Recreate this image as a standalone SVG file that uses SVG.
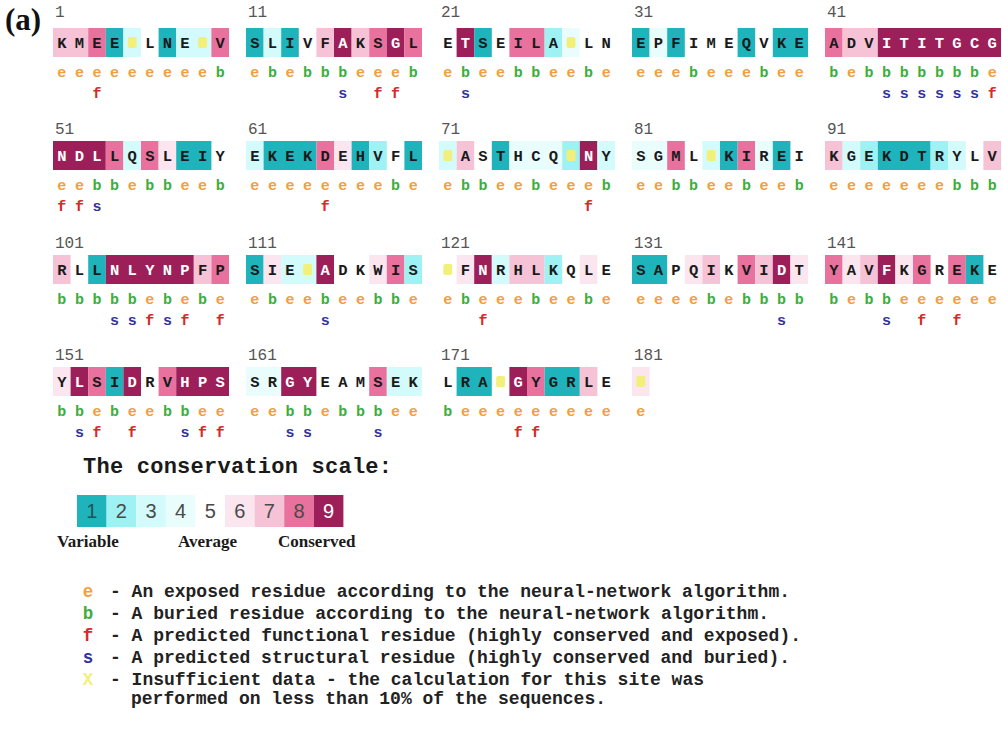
<svg xmlns="http://www.w3.org/2000/svg" width="1002" height="730" viewBox="0 0 1002 730">
<style>
  .num{font:16px "Liberation Mono",monospace;fill:#555}
  .res{font:bold 15.5px "Liberation Mono",monospace;fill:#1a1a1a;text-anchor:middle}
  .w{fill:#fff}
  .ann{font:bold 15px "Liberation Mono",monospace;text-anchor:middle}
  .e{fill:#f0a040}.b{fill:#3cae3c}.f{fill:#d42a2a}.s{fill:#33339a}
  .g1{fill:#1fb3bb}.g2{fill:#9ef2f4}.g3{fill:#d3fbfb}.g4{fill:#eafdfd}
  .g6{fill:#fbe6ef}.g7{fill:#f5c2d6}.g8{fill:#e8719d}.g9{fill:#9c1f5a}
  .ins{fill:#f2f07a}
  .title{font:bold 22px "Liberation Mono",monospace;fill:#1a1a1a}
  .digit{font:20px "Liberation Sans",Arial,sans-serif;fill:#4a4a4a;text-anchor:middle}
  .lab{font:bold 17px "Liberation Serif","Times New Roman",serif;fill:#1a1a1a}
  .key{font:bold 17.5px "Liberation Mono",monospace;fill:#222}
  .sym{font:bold 17.5px "Liberation Mono",monospace;text-anchor:middle}
  .tag{font:bold 31px "Liberation Serif","Times New Roman",serif;fill:#111}
</style>
<rect width="1002" height="730" fill="#fff"/>
<text class="tag" x="5" y="30">(a)</text>

<!-- residues 1-50 -->
<g id="pos1" transform="translate(53,28)">
  <text class="num" x="2" y="-11">1</text>
  <rect class="g7" x="0" y="0" width="35.2" height="29"/><rect class="g8" x="35.2" y="0" width="17.6" height="29"/><rect class="g1" x="52.8" y="0" width="17.6" height="29"/><rect class="g3" x="70.4" y="0" width="17.6" height="29"/><rect class="g1" x="105.6" y="0" width="17.6" height="29"/><rect class="g3" x="123.2" y="0" width="35.2" height="29"/><rect class="g8" x="158.4" y="0" width="17.6" height="29"/>
  <rect class="ins" x="74.7" y="9" width="9" height="11" rx="2"/><rect class="ins" x="145.1" y="9" width="9" height="11" rx="2"/>
  <text class="res" x="8.8 26.4 44 61.6 96.8 114.4 132 167.2" y="20">KMEELNEV</text>
  <text class="ann" y="49"><tspan class="e" x="8.8 26.4 44 61.6 79.2 96.8 114.4 132 149.6">eeeeeeeee</tspan><tspan class="b" x="167.2">b</tspan></text>
  <text class="ann f" x="44" y="70">f</text>
</g>
<g id="pos11" transform="translate(246,28)">
  <text class="num" x="2" y="-11">11</text>
  <rect class="g1" x="0" y="0" width="17.6" height="29"/><rect class="g3" x="17.6" y="0" width="17.6" height="29"/><rect class="g1" x="35.2" y="0" width="17.6" height="29"/><rect class="g7" x="70.4" y="0" width="17.6" height="29"/><rect class="g9" x="88" y="0" width="17.6" height="29"/><rect class="g7" x="105.6" y="0" width="17.6" height="29"/><rect class="g8" x="123.2" y="0" width="17.6" height="29"/><rect class="g9" x="140.8" y="0" width="17.6" height="29"/><rect class="g8" x="158.4" y="0" width="17.6" height="29"/>
  <text class="res" y="20"><tspan x="8.8 26.4 44 61.6 79.2">SLIVF</tspan><tspan class="w" x="96.8">A</tspan><tspan x="114.4 132">KS</tspan><tspan class="w" x="149.6">G</tspan><tspan x="167.2">L</tspan></text>
  <text class="ann" y="49"><tspan class="e" x="8.8">e</tspan><tspan class="b" x="26.4">b</tspan><tspan class="e" x="44">e</tspan><tspan class="b" x="61.6 79.2 96.8">bbb</tspan><tspan class="e" x="114.4 132 149.6">eee</tspan><tspan class="b" x="167.2">b</tspan></text>
  <text class="ann" y="70"><tspan class="s" x="96.8">s</tspan><tspan class="f" x="132 149.6">ff</tspan></text>
</g>
<g id="pos21" transform="translate(439,28)">
  <text class="num" x="2" y="-11">21</text>
  <rect class="g9" x="17.6" y="0" width="17.6" height="29"/><rect class="g1" x="35.2" y="0" width="17.6" height="29"/><rect class="g8" x="70.4" y="0" width="35.2" height="29"/><rect class="g2" x="105.6" y="0" width="17.6" height="29"/><rect class="g4" x="123.2" y="0" width="17.6" height="29"/>
  <rect class="ins" x="127.5" y="9" width="9" height="11" rx="2"/>
  <text class="res" y="20"><tspan x="8.8">E</tspan><tspan class="w" x="26.4">T</tspan><tspan x="44 61.6 79.2 96.8 114.4 149.6 167.2">SEILALN</tspan></text>
  <text class="ann" y="49"><tspan class="e" x="8.8">e</tspan><tspan class="b" x="26.4">b</tspan><tspan class="e" x="44 61.6">ee</tspan><tspan class="b" x="79.2 96.8">bb</tspan><tspan class="e" x="114.4 132">ee</tspan><tspan class="b" x="149.6">b</tspan><tspan class="e" x="167.2">e</tspan></text>
  <text class="ann s" x="26.4" y="70">s</text>
</g>
<g id="pos31" transform="translate(632,28)">
  <text class="num" x="2" y="-11">31</text>
  <rect class="g1" x="0" y="0" width="17.6" height="29"/><rect class="g4" x="17.6" y="0" width="17.6" height="29"/><rect class="g1" x="35.2" y="0" width="17.6" height="29"/><rect class="g1" x="105.6" y="0" width="17.6" height="29"/><rect class="g1" x="140.8" y="0" width="35.2" height="29"/>
  <text class="res" x="8.8 26.4 44 61.6 79.2 96.8 114.4 132 149.6 167.2" y="20">EPFIMEQVKE</text>
  <text class="ann" y="49"><tspan class="e" x="8.8 26.4 44">eee</tspan><tspan class="b" x="61.6">b</tspan><tspan class="e" x="79.2 96.8 114.4">eee</tspan><tspan class="b" x="132">b</tspan><tspan class="e" x="149.6 167.2">ee</tspan></text>
</g>
<g id="pos41" transform="translate(825,28)">
  <text class="num" x="2" y="-11">41</text>
  <rect class="g8" x="0" y="0" width="17.6" height="29"/><rect class="g7" x="17.6" y="0" width="35.2" height="29"/><rect class="g9" x="52.8" y="0" width="123.2" height="29"/>
  <text class="res" y="20"><tspan x="8.8 26.4 44">ADV</tspan><tspan class="w" x="61.6 79.2 96.8 114.4 132 149.6 167.2">ITITGCG</tspan></text>
  <text class="ann" y="49"><tspan class="b" x="8.8">b</tspan><tspan class="e" x="26.4">e</tspan><tspan class="b" x="44 61.6 79.2 96.8 114.4 132 149.6">bbbbbbb</tspan><tspan class="e" x="167.2">e</tspan></text>
  <text class="ann" y="70"><tspan class="s" x="61.6 79.2 96.8 114.4 132 149.6">ssssss</tspan><tspan class="f" x="167.2">f</tspan></text>
</g>

<!-- residues 51-100 -->
<g id="pos51" transform="translate(53,141)">
  <text class="num" x="2" y="-7">51</text>
  <rect class="g9" x="0" y="0" width="52.8" height="29"/><rect class="g8" x="52.8" y="0" width="17.6" height="29"/><rect class="g3" x="70.4" y="0" width="17.6" height="29"/><rect class="g8" x="88" y="0" width="17.6" height="29"/><rect class="g6" x="105.6" y="0" width="17.6" height="29"/><rect class="g1" x="123.2" y="0" width="35.2" height="29"/>
  <text class="res" y="20"><tspan class="w" x="8.8 26.4 44">NDL</tspan><tspan x="61.6 79.2 96.8 114.4 132 149.6 167.2">LQSLEIY</tspan></text>
  <text class="ann" y="49"><tspan class="e" x="8.8 26.4">ee</tspan><tspan class="b" x="44 61.6">bb</tspan><tspan class="e" x="79.2">e</tspan><tspan class="b" x="96.8 114.4">bb</tspan><tspan class="e" x="132 149.6">ee</tspan><tspan class="b" x="167.2">b</tspan></text>
  <text class="ann" y="70"><tspan class="f" x="8.8 26.4">ff</tspan><tspan class="s" x="44">s</tspan></text>
</g>
<g id="pos61" transform="translate(246,141)">
  <text class="num" x="2" y="-7">61</text>
  <rect class="g3" x="0" y="0" width="17.6" height="29"/><rect class="g1" x="17.6" y="0" width="52.8" height="29"/><rect class="g8" x="70.4" y="0" width="17.6" height="29"/><rect class="g6" x="88" y="0" width="17.6" height="29"/><rect class="g1" x="105.6" y="0" width="17.6" height="29"/><rect class="g2" x="123.2" y="0" width="17.6" height="29"/><rect class="g1" x="158.4" y="0" width="17.6" height="29"/>
  <text class="res" x="8.8 26.4 44 61.6 79.2 96.8 114.4 132 149.6 167.2" y="20">EKEKDEHVFL</text>
  <text class="ann" y="49"><tspan class="e" x="8.8 26.4 44 61.6 79.2 96.8 114.4 132">eeeeeeee</tspan><tspan class="b" x="149.6">b</tspan><tspan class="e" x="167.2">e</tspan></text>
  <text class="ann f" x="79.2" y="70">f</text>
</g>
<g id="pos71" transform="translate(439,141)">
  <text class="num" x="2" y="-7">71</text>
  <rect class="g3" x="0" y="0" width="17.6" height="29"/><rect class="g7" x="17.6" y="0" width="17.6" height="29"/><rect class="g1" x="52.8" y="0" width="17.6" height="29"/><rect class="g4" x="70.4" y="0" width="52.8" height="29"/><rect class="g2" x="123.2" y="0" width="17.6" height="29"/><rect class="g9" x="140.8" y="0" width="17.6" height="29"/><rect class="g3" x="158.4" y="0" width="17.6" height="29"/>
  <rect class="ins" x="4.3" y="9" width="9" height="11" rx="2"/><rect class="ins" x="127.5" y="9" width="9" height="11" rx="2"/>
  <text class="res" y="20"><tspan x="26.4 44 61.6 79.2 96.8 114.4">ASTHCQ</tspan><tspan class="w" x="149.6">N</tspan><tspan x="167.2">Y</tspan></text>
  <text class="ann" y="49"><tspan class="e" x="8.8">e</tspan><tspan class="b" x="26.4 44">bb</tspan><tspan class="e" x="61.6 79.2">ee</tspan><tspan class="b" x="96.8">b</tspan><tspan class="e" x="114.4 132 149.6">eee</tspan><tspan class="b" x="167.2">b</tspan></text>
  <text class="ann f" x="149.6" y="70">f</text>
</g>
<g id="pos81" transform="translate(632,141)">
  <text class="num" x="2" y="-7">81</text>
  <rect class="g4" x="0" y="0" width="35.2" height="29"/><rect class="g8" x="35.2" y="0" width="17.6" height="29"/><rect class="g3" x="70.4" y="0" width="17.6" height="29"/><rect class="g1" x="88" y="0" width="17.6" height="29"/><rect class="g8" x="105.6" y="0" width="17.6" height="29"/><rect class="g4" x="123.2" y="0" width="17.6" height="29"/><rect class="g1" x="140.8" y="0" width="17.6" height="29"/>
  <rect class="ins" x="74.7" y="9" width="9" height="11" rx="2"/>
  <text class="res" x="8.8 26.4 44 61.6 96.8 114.4 132 149.6 167.2" y="20">SGMLKIREI</text>
  <text class="ann" y="49"><tspan class="e" x="8.8 26.4">ee</tspan><tspan class="b" x="44 61.6">bb</tspan><tspan class="e" x="79.2 96.8">ee</tspan><tspan class="b" x="114.4">b</tspan><tspan class="e" x="132 149.6">ee</tspan><tspan class="b" x="167.2">b</tspan></text>
</g>
<g id="pos91" transform="translate(825,141)">
  <text class="num" x="2" y="-7">91</text>
  <rect class="g7" x="0" y="0" width="17.6" height="29"/><rect class="g3" x="17.6" y="0" width="17.6" height="29"/><rect class="g2" x="35.2" y="0" width="17.6" height="29"/><rect class="g1" x="52.8" y="0" width="52.8" height="29"/><rect class="g2" x="105.6" y="0" width="17.6" height="29"/><rect class="g3" x="123.2" y="0" width="17.6" height="29"/><rect class="g7" x="158.4" y="0" width="17.6" height="29"/>
  <text class="res" x="8.8 26.4 44 61.6 79.2 96.8 114.4 132 149.6 167.2" y="20">KGEKDTRYLV</text>
  <text class="ann" y="49"><tspan class="e" x="8.8 26.4 44 61.6 79.2 96.8 114.4">eeeeeee</tspan><tspan class="b" x="132 149.6 167.2">bbb</tspan></text>
</g>

<!-- residues 101-150 -->
<g id="pos101" transform="translate(53,255)">
  <text class="num" x="2" y="-7">101</text>
  <rect class="g7" x="0" y="0" width="17.6" height="29"/><rect class="g1" x="35.2" y="0" width="17.6" height="29"/><rect class="g9" x="52.8" y="0" width="88" height="29"/><rect class="g7" x="140.8" y="0" width="17.6" height="29"/><rect class="g8" x="158.4" y="0" width="17.6" height="29"/>
  <text class="res" y="20"><tspan x="8.8 26.4 44">RLL</tspan><tspan class="w" x="61.6 79.2 96.8 114.4 132">NLYNP</tspan><tspan x="149.6 167.2">FP</tspan></text>
  <text class="ann" y="49"><tspan class="b" x="8.8 26.4 44 61.6 79.2">bbbbb</tspan><tspan class="e" x="96.8">e</tspan><tspan class="b" x="114.4">b</tspan><tspan class="e" x="132">e</tspan><tspan class="b" x="149.6">b</tspan><tspan class="e" x="167.2">e</tspan></text>
  <text class="ann" y="70"><tspan class="s" x="61.6 79.2">ss</tspan><tspan class="f" x="96.8">f</tspan><tspan class="s" x="114.4">s</tspan><tspan class="f" x="132 167.2">ff</tspan></text>
</g>
<g id="pos111" transform="translate(246,255)">
  <text class="num" x="2" y="-7">111</text>
  <rect class="g1" x="0" y="0" width="17.6" height="29"/><rect class="g6" x="17.6" y="0" width="17.6" height="29"/><rect class="g3" x="35.2" y="0" width="35.2" height="29"/><rect class="g9" x="70.4" y="0" width="17.6" height="29"/><rect class="g6" x="123.2" y="0" width="17.6" height="29"/><rect class="g8" x="140.8" y="0" width="17.6" height="29"/><rect class="g2" x="158.4" y="0" width="17.6" height="29"/>
  <rect class="ins" x="57.1" y="9" width="9" height="11" rx="2"/>
  <text class="res" y="20"><tspan x="8.8 26.4 44">SIE</tspan><tspan class="w" x="79.2">A</tspan><tspan x="96.8 114.4 132 149.6 167.2">DKWIS</tspan></text>
  <text class="ann" y="49"><tspan class="e" x="8.8">e</tspan><tspan class="b" x="26.4">b</tspan><tspan class="e" x="44 61.6">ee</tspan><tspan class="b" x="79.2">b</tspan><tspan class="e" x="96.8 114.4">ee</tspan><tspan class="b" x="132 149.6">bb</tspan><tspan class="e" x="167.2">e</tspan></text>
  <text class="ann s" x="79.2" y="70">s</text>
</g>
<g id="pos121" transform="translate(439,255)">
  <text class="num" x="2" y="-7">121</text>
  <rect class="g6" x="17.6" y="0" width="17.6" height="29"/><rect class="g9" x="35.2" y="0" width="17.6" height="29"/><rect class="g3" x="52.8" y="0" width="17.6" height="29"/><rect class="g7" x="70.4" y="0" width="35.2" height="29"/><rect class="g2" x="105.6" y="0" width="17.6" height="29"/><rect class="g6" x="140.8" y="0" width="17.6" height="29"/>
  <rect class="ins" x="4.3" y="9" width="9" height="11" rx="2"/>
  <text class="res" y="20"><tspan x="26.4">F</tspan><tspan class="w" x="44">N</tspan><tspan x="61.6 79.2 96.8 114.4 132 149.6 167.2">RHLKQLE</tspan></text>
  <text class="ann" y="49"><tspan class="e" x="8.8">e</tspan><tspan class="b" x="26.4">b</tspan><tspan class="e" x="44 61.6 79.2">eee</tspan><tspan class="b" x="96.8">b</tspan><tspan class="e" x="114.4 132">ee</tspan><tspan class="b" x="149.6">b</tspan><tspan class="e" x="167.2">e</tspan></text>
  <text class="ann f" x="44" y="70">f</text>
</g>
<g id="pos131" transform="translate(632,255)">
  <text class="num" x="2" y="-7">131</text>
  <rect class="g1" x="0" y="0" width="35.2" height="29"/><rect class="g6" x="52.8" y="0" width="17.6" height="29"/><rect class="g7" x="70.4" y="0" width="17.6" height="29"/><rect class="g8" x="105.6" y="0" width="17.6" height="29"/><rect class="g7" x="123.2" y="0" width="17.6" height="29"/><rect class="g9" x="140.8" y="0" width="17.6" height="29"/><rect class="g6" x="158.4" y="0" width="17.6" height="29"/>
  <text class="res" y="20"><tspan x="8.8 26.4 44 61.6 79.2 96.8 114.4 132">SAPQIKVI</tspan><tspan class="w" x="149.6">D</tspan><tspan x="167.2">T</tspan></text>
  <text class="ann" y="49"><tspan class="e" x="8.8 26.4 44 61.6">eeee</tspan><tspan class="b" x="79.2">b</tspan><tspan class="e" x="96.8">e</tspan><tspan class="b" x="114.4 132 149.6 167.2">bbbb</tspan></text>
  <text class="ann s" x="149.6" y="70">s</text>
</g>
<g id="pos141" transform="translate(825,255)">
  <text class="num" x="2" y="-7">141</text>
  <rect class="g8" x="0" y="0" width="17.6" height="29"/><rect class="g6" x="17.6" y="0" width="17.6" height="29"/><rect class="g7" x="35.2" y="0" width="17.6" height="29"/><rect class="g9" x="52.8" y="0" width="17.6" height="29"/><rect class="g6" x="70.4" y="0" width="17.6" height="29"/><rect class="g8" x="88" y="0" width="17.6" height="29"/><rect class="g8" x="123.2" y="0" width="17.6" height="29"/><rect class="g1" x="140.8" y="0" width="17.6" height="29"/>
  <text class="res" y="20"><tspan x="8.8 26.4 44">YAV</tspan><tspan class="w" x="61.6">F</tspan><tspan x="79.2 96.8 114.4 132 149.6 167.2">KGREKE</tspan></text>
  <text class="ann" y="49"><tspan class="b" x="8.8">b</tspan><tspan class="e" x="26.4">e</tspan><tspan class="b" x="44 61.6">bb</tspan><tspan class="e" x="79.2 96.8 114.4 132 149.6 167.2">eeeeee</tspan></text>
  <text class="ann" y="70"><tspan class="s" x="61.6">s</tspan><tspan class="f" x="96.8 132">ff</tspan></text>
</g>

<!-- residues 151-181 -->
<g id="pos151" transform="translate(53,367)">
  <text class="num" x="2" y="-7">151</text>
  <rect class="g6" x="0" y="0" width="17.6" height="29"/><rect class="g9" x="17.6" y="0" width="17.6" height="29"/><rect class="g8" x="35.2" y="0" width="17.6" height="29"/><rect class="g1" x="52.8" y="0" width="17.6" height="29"/><rect class="g9" x="70.4" y="0" width="17.6" height="29"/><rect class="g8" x="105.6" y="0" width="17.6" height="29"/><rect class="g9" x="123.2" y="0" width="52.8" height="29"/>
  <text class="res" y="20"><tspan x="8.8">Y</tspan><tspan class="w" x="26.4">L</tspan><tspan x="44 61.6">SI</tspan><tspan class="w" x="79.2">D</tspan><tspan x="96.8 114.4">RV</tspan><tspan class="w" x="132 149.6 167.2">HPS</tspan></text>
  <text class="ann" y="49"><tspan class="b" x="8.8 26.4">bb</tspan><tspan class="e" x="44">e</tspan><tspan class="b" x="61.6">b</tspan><tspan class="e" x="79.2 96.8">ee</tspan><tspan class="b" x="114.4 132">bb</tspan><tspan class="e" x="149.6 167.2">ee</tspan></text>
  <text class="ann" y="70"><tspan class="s" x="26.4">s</tspan><tspan class="f" x="44 79.2">ff</tspan><tspan class="s" x="132">s</tspan><tspan class="f" x="149.6 167.2">ff</tspan></text>
</g>
<g id="pos161" transform="translate(246,367)">
  <text class="num" x="2" y="-7">161</text>
  <rect class="g4" x="0" y="0" width="35.2" height="29"/><rect class="g9" x="35.2" y="0" width="35.2" height="29"/><rect class="g8" x="123.2" y="0" width="17.6" height="29"/><rect class="g3" x="140.8" y="0" width="35.2" height="29"/>
  <text class="res" y="20"><tspan x="8.8 26.4">SR</tspan><tspan class="w" x="44 61.6">GY</tspan><tspan x="79.2 96.8 114.4 132 149.6 167.2">EAMSEK</tspan></text>
  <text class="ann" y="49"><tspan class="e" x="8.8 26.4">ee</tspan><tspan class="b" x="44 61.6">bb</tspan><tspan class="e" x="79.2">e</tspan><tspan class="b" x="96.8 114.4 132">bbb</tspan><tspan class="e" x="149.6 167.2">ee</tspan></text>
  <text class="ann s" x="44 61.6 132" y="70">sss</text>
</g>
<g id="pos171" transform="translate(439,367)">
  <text class="num" x="2" y="-7">171</text>
  <rect class="g1" x="17.6" y="0" width="35.2" height="29"/><rect class="g9" x="70.4" y="0" width="17.6" height="29"/><rect class="g8" x="88" y="0" width="17.6" height="29"/><rect class="g1" x="105.6" y="0" width="35.2" height="29"/><rect class="g7" x="140.8" y="0" width="17.6" height="29"/>
  <rect class="ins" x="57.1" y="9" width="9" height="11" rx="2"/>
  <text class="res" y="20"><tspan x="8.8 26.4 44">LRA</tspan><tspan class="w" x="79.2">G</tspan><tspan x="96.8 114.4 132 149.6 167.2">YGRLE</tspan></text>
  <text class="ann" y="49"><tspan class="b" x="8.8">b</tspan><tspan class="e" x="26.4 44 61.6 79.2 96.8 114.4 132 149.6 167.2">eeeeeeeee</tspan></text>
  <text class="ann f" x="79.2 96.8" y="70">ff</text>
</g>
<g id="pos181" transform="translate(632,367)">
  <text class="num" x="2" y="-7">181</text>
  <rect class="g6" x="0" y="0" width="17.6" height="29"/>
  <rect class="ins" x="4.3" y="9" width="9" height="11" rx="2"/>
  <text class="ann e" x="8.8" y="49">e</text>
</g>

<!-- conservation colour scale -->
<g id="scale">
  <text class="title" x="83" y="473" textLength="309">The conservation scale:</text>
  <rect class="g1" x="77" y="495" width="29.6" height="32"/>
  <rect class="g2" x="106.6" y="495" width="29.6" height="32"/>
  <rect class="g3" x="136.2" y="495" width="29.6" height="32"/>
  <rect class="g4" x="165.8" y="495" width="29.6" height="32"/>
  <rect class="g6" x="225" y="495" width="29.6" height="32"/>
  <rect class="g7" x="254.6" y="495" width="29.6" height="32"/>
  <rect class="g8" x="284.2" y="495" width="29.6" height="32"/>
  <rect class="g9" x="313.8" y="495" width="29.6" height="32"/>
  <text class="digit" y="518"><tspan x="91.8" fill="#1e5558">1</tspan><tspan x="121.4 151 180.6 210.2 239.8 269.4 299">2345678</tspan><tspan class="w" x="328.6">9</tspan></text>
  <text class="lab" x="57" y="547">Variable</text>
  <text class="lab" x="178" y="547">Average</text>
  <text class="lab" x="278" y="547">Conserved</text>
</g>

<!-- symbol key -->
<g id="key">
  <text class="sym e" x="88" y="597">e</text>
  <text class="key" x="110" y="597" textLength="680" lengthAdjust="spacingAndGlyphs">- An exposed residue according to the neural-network algorithm.</text>
  <text class="sym b" x="88" y="619">b</text>
  <text class="key" x="110" y="619" textLength="659" lengthAdjust="spacingAndGlyphs">- A buried residue according to the neural-network algorithm.</text>
  <text class="sym f" x="88" y="641">f</text>
  <text class="key" x="110" y="641" textLength="691" lengthAdjust="spacingAndGlyphs">- A predicted functional residue (highly conserved and exposed).</text>
  <text class="sym s" x="88" y="663">s</text>
  <text class="key" x="110" y="663" textLength="680" lengthAdjust="spacingAndGlyphs">- A predicted structural residue (highly conserved and buried).</text>
  <text class="sym" x="88" y="685" fill="#f3f07a">X</text>
  <text class="key" x="110" y="685" textLength="594" lengthAdjust="spacingAndGlyphs">- Insufficient data - the calculation for this site was</text>
  <text class="key" x="131" y="704" textLength="475" lengthAdjust="spacingAndGlyphs">performed on less than 10% of the sequences.</text>
</g>
</svg>
